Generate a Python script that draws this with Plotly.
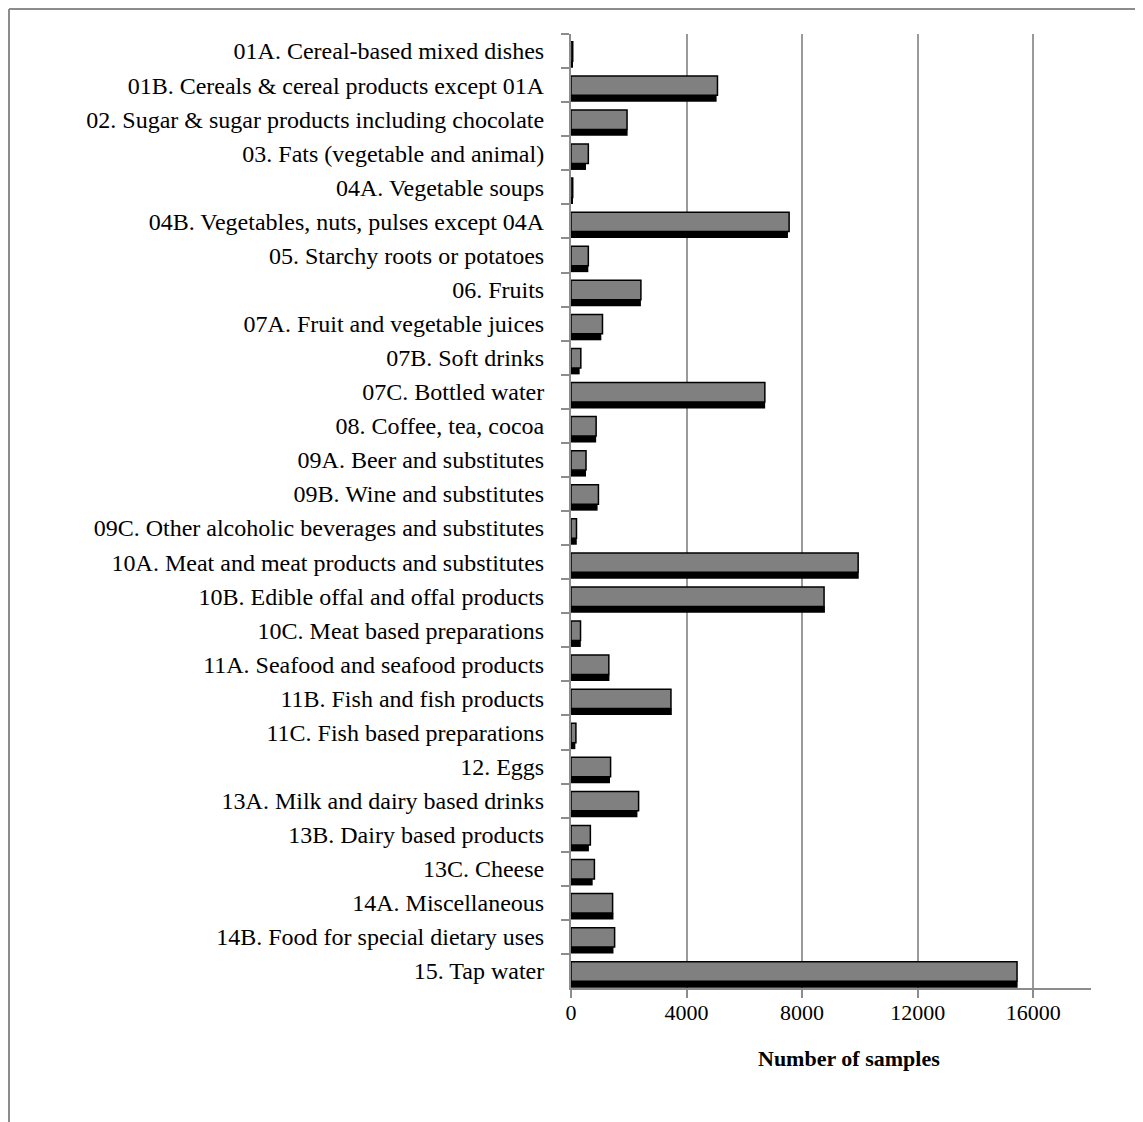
import plotly.graph_objects as go

categories = [
    "01A. Cereal-based mixed dishes",
    "01B. Cereals & cereal products except 01A",
    "02. Sugar & sugar products including chocolate",
    "03. Fats (vegetable and animal)",
    "04A. Vegetable soups",
    "04B. Vegetables, nuts, pulses except 04A",
    "05. Starchy roots or potatoes",
    "06. Fruits",
    "07A. Fruit and vegetable juices",
    "07B. Soft drinks",
    "07C. Bottled water",
    "08. Coffee, tea, cocoa",
    "09A. Beer and substitutes",
    "09B. Wine and substitutes",
    "09C. Other alcoholic beverages and substitutes",
    "10A. Meat and meat products and substitutes",
    "10B. Edible offal and offal products",
    "10C. Meat based preparations",
    "11A. Seafood and seafood products",
    "11B. Fish and fish products",
    "11C. Fish based preparations",
    "12. Eggs",
    "13A. Milk and dairy based drinks",
    "13B. Dairy based products",
    "13C. Cheese",
    "14A. Miscellaneous",
    "14B. Food for special dietary uses",
    "15. Tap water",
]

# grey bars (upper) and black bars (lower), number of samples
grey_values = [60, 5070, 1940, 600, 60, 7550, 600, 2420, 1090, 340, 6710, 870, 520, 950,
               190, 9940, 8760, 330, 1310, 3460, 170, 1370, 2340, 670, 810, 1440, 1510, 15440]
black_values = [50, 5040, 1960, 520, 40, 7510, 600, 2420, 1050, 300, 6720, 870, 520, 920,
                200, 9960, 8790, 340, 1330, 3490, 150, 1350, 2300, 620, 750, 1470, 1470, 15460]

x_ticks = [0, 4000, 8000, 12000, 16000]

# page body adds 8px offset, so the figure itself starts at (8, 8)
W, H = 1135, 1114
L, R, T, B = 563, 52, 26, 134
font = "Liberation Serif, Times New Roman, serif"

fig = go.Figure()

fig.add_trace(go.Bar(
    y=categories,
    x=black_values,
    orientation="h",
    offset=0.30,
    width=0.19,
    marker=dict(color="#000000", line=dict(width=0)),
    name="black",
))

fig.add_trace(go.Bar(
    y=categories,
    x=grey_values,
    orientation="h",
    offset=-0.27,
    width=0.57,
    marker=dict(color="#808080", line=dict(color="#000000", width=1.5)),
    name="grey",
))

# paper coordinates from figure pixel positions
pw, ph = W - L - R, H - T - B
def px(x):
    return (x - L) / pw
def py(y):
    return (H - B - y) / ph

fig.add_shape(type="line", xref="paper", yref="paper",
              x0=px(1), x1=px(W + 5), y0=py(1), y1=py(1),
              line=dict(color="#8c8c8c", width=2))
fig.add_shape(type="line", xref="paper", yref="paper",
              x0=px(1), x1=px(1), y0=py(1), y1=py(H + 5),
              line=dict(color="#8c8c8c", width=2))

fig.add_annotation(
    text="<b>Number of samples</b>",
    xref="paper", yref="paper",
    x=px(841), y=py(1050),
    xanchor="center", yanchor="middle",
    showarrow=False,
    font=dict(family=font, size=22, color="#000000"),
)

fig.update_layout(
    width=W,
    height=H,
    barmode="overlay",
    showlegend=False,
    plot_bgcolor="#ffffff",
    paper_bgcolor="#ffffff",
    margin=dict(l=L, r=R, t=T, b=B),
    font=dict(family=font, size=22, color="#000000"),
)

fig.update_xaxes(
    range=[0, 18000],
    tickvals=x_ticks,
    ticktext=[str(v) for v in x_ticks],
    showgrid=True,
    gridcolor="#9a9a9a",
    gridwidth=2,
    zeroline=False,
    showline=True,
    linecolor="#8c8c8c",
    linewidth=2,
    ticks="outside",
    ticklen=8,
    tickwidth=2,
    tickcolor="#8c8c8c",
    ticklabelstandoff=-4,
    tickfont=dict(family=font, size=22),
)

fig.update_yaxes(
    autorange="reversed",
    showgrid=False,
    showline=True,
    linecolor="#8c8c8c",
    linewidth=2,
    ticks="outside",
    tickson="boundaries",
    ticklen=8,
    tickwidth=2,
    tickcolor="#8c8c8c",
    ticklabelstandoff=20,
    tickfont=dict(family=font, size=24),
)

fig.write_html("out.html")
